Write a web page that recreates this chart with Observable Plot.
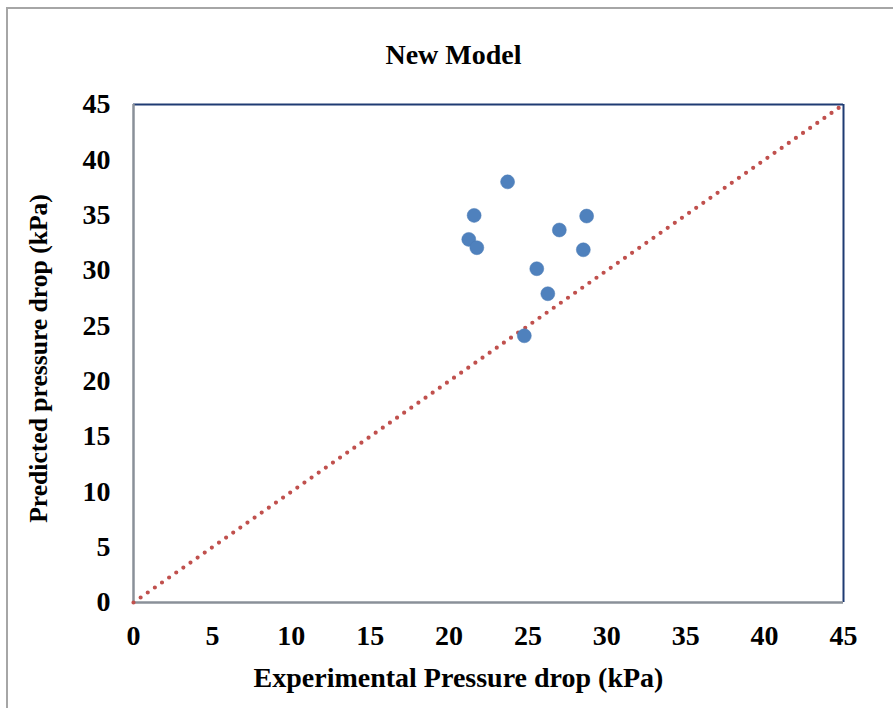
<!DOCTYPE html>
<html>
<head>
<meta charset="utf-8">
<script src="https://cdn.jsdelivr.net/npm/d3@7"></script>
<script src="https://cdn.jsdelivr.net/npm/@observablehq/plot@0.6"></script>
<style>
  html, body { margin: 0; padding: 0; background: #fff; }
  #wrap { position: relative; width: 893px; height: 708px; overflow: hidden; }
  #border { position: absolute; left: 6px; top: 7px; width: 1000px; height: 1000px; border: 2px solid #a6a6a6; box-sizing: border-box; }
  #chart { position: absolute; left: 0; top: 0; }
</style>
</head>
<body>
<div id="wrap"><div id="border"></div><div id="chart"></div></div>
<script>
const title = "New Model";
const xLabel = "Experimental Pressure drop (kPa)";
const yLabel = "Predicted pressure drop (kPa)";
const experimental = [23.71, 21.59, 28.72, 26.99, 21.25, 21.76, 28.51, 25.56, 26.26, 24.77];
const predicted    = [38.01, 34.98, 34.92, 33.66, 32.81, 32.06, 31.87, 30.16, 27.90, 24.10];
const parityX = [0, 45];
const parityY = [0, 45];
const ticks = [0, 5, 10, 15, 20, 25, 30, 35, 40, 45];

const points = experimental.map((x, i) => ({x, y: predicted[i]}));
const parity = parityX.map((x, i) => ({x, y: parityY[i]}));

const font = "'Liberation Serif', 'Times New Roman', serif";

const chart = Plot.plot({
  width: 893,
  height: 708,
  marginLeft: 133,
  marginRight: 50,
  marginTop: 104,
  marginBottom: 106,
  style: {fontFamily: font, background: "transparent", overflow: "visible"},
  x: {domain: [0, 45], ticks},
  y: {domain: [0, 45], ticks},
  marks: [
    Plot.ruleY([45], {stroke: "#1f3b73", strokeWidth: 2}),
    Plot.ruleX([45], {stroke: "#1f3b73", strokeWidth: 2}),
    Plot.ruleY([0], {stroke: "#8a9099", strokeWidth: 2.5}),
    Plot.ruleX([0], {stroke: "#8a9099", strokeWidth: 2.5}),
    Plot.line(parity, {x: "x", y: "y", stroke: "#c0504d", strokeWidth: 4.2, strokeDasharray: "0 8.7", strokeLinecap: "round"}),
    Plot.dot(points, {x: "x", y: "y", r: 7, fill: "#4f81bd", stroke: "#4a7ab5", strokeWidth: 0.5}),
    Plot.axisX({ticks, tickSize: 0, tickPadding: 23, fontSize: 28, fontWeight: "bold", fill: "#000", label: null}),
    Plot.axisY({ticks, tickSize: 0, tickPadding: 23, fontSize: 28, fontWeight: "bold", fill: "#000", label: null}),
    Plot.text([title], {frameAnchor: "top", lineAnchor: "middle", dx: -35, dy: -49, fontSize: 28, fontWeight: "bold", fill: "#000"}),
    Plot.text([xLabel], {frameAnchor: "bottom", lineAnchor: "middle", dx: -30, dy: 76, fontSize: 28, fontWeight: "bold", fill: "#000"}),
    Plot.text([yLabel], {frameAnchor: "left", textAnchor: "middle", lineAnchor: "middle", dx: -95, dy: 5, rotate: -90, fontSize: 25.6, fontWeight: "bold", fill: "#000"})
  ]
});
document.getElementById("chart").appendChild(chart);
</script>
</body>
</html>
